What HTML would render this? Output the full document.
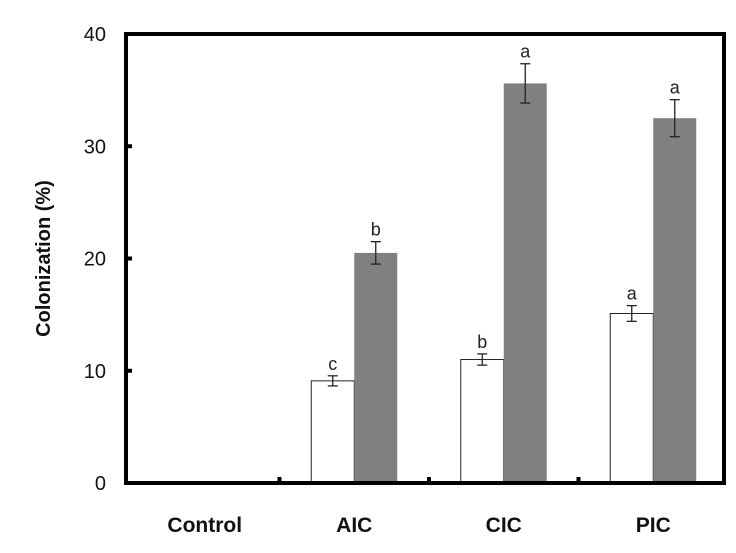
<!DOCTYPE html>
<html><head><meta charset="utf-8"><style>
body{margin:0;background:#fff;}
svg{display:block;font-family:"Liberation Sans",sans-serif;}
</style></head><body>
<svg id="chart" width="736" height="553"></svg>
<script>
const categories=["Control","AIC","CIC","PIC"];
const whiteValues=[0,9.1,11.0,15.1];
const whiteErrors=[0,0.45,0.5,0.7];
const grayValues=[0,20.5,35.6,32.5];
const grayErrors=[0,1.0,1.75,1.65];
const whiteLetters=["","c","b","a"];
const grayLetters=["","b","a","a"];
const yTicks=[0,10,20,30,40];

const NS="http://www.w3.org/2000/svg";
const svg=document.getElementById('chart');
const L=126,R=724,T=34,B=483,OFF=4;
const catW=(R-L)/categories.length, barW=43;
const y=v=>B-(v/40)*(B-T);
const xc=i=>L+OFF+catW*(i+0.5);
function mk(tag,attrs,parent){const e=document.createElementNS(NS,tag);for(const k in attrs)e.setAttribute(k,attrs[k]);(parent||svg).appendChild(e);return e;}

yTicks.forEach(t=>{
  const tx=mk('text',{x:106,y:y(t)+7,'text-anchor':'end','font-size':20,fill:'#111'});
  tx.textContent=t;
  
  
  const tk=mk('line',{x1:L,x2:L+6,y1:y(t),y2:y(t),stroke:'#000','stroke-width':4});
  
  
});
const yt=mk('text',{x:0,y:0,transform:'translate(50,'+((T+B)/2)+') rotate(-90)','text-anchor':'middle','font-size':20,'font-weight':'bold',fill:'#111'});
yt.textContent='Colonization (%)';



function bar(v,e,letter,x,fill,name){
  if(v<=0)return;
  const r=mk('rect',{x:x,y:y(v),width:barW,height:B-y(v),fill:fill,stroke:fill==='#fff'?'#222':'none','stroke-width':1});
  
  
  const cx=x+barW/2;
  const g=mk('g',{stroke:'#222','stroke-width':1.3});
  
  
  mk('line',{x1:cx,x2:cx,y1:y(v+e),y2:y(v-e)},g);
  mk('line',{x1:cx-5,x2:cx+5,y1:y(v+e),y2:y(v+e)},g);
  mk('line',{x1:cx-5,x2:cx+5,y1:y(v-e),y2:y(v-e)},g);
  const t=mk('text',{x:cx,y:y(v+e)-6,'text-anchor':'middle','font-size':18,fill:'#222'});
  t.textContent=letter;
  
  
}
categories.forEach((c,i)=>{
  bar(whiteValues[i],whiteErrors[i],whiteLetters[i],xc(i)-barW,'#fff','bar-white-'+c.toLowerCase());
  bar(grayValues[i],grayErrors[i],grayLetters[i],xc(i),'#808080','bar-gray-'+c.toLowerCase());
  const t=mk('text',{x:xc(i),y:532,'text-anchor':'middle','font-size':21,'font-weight':'bold',fill:'#111'});
  t.textContent=c;
  
  
  if(i>0){
    const tk=mk('line',{x1:L+OFF+catW*i,x2:L+OFF+catW*i,y1:B,y2:B-6,stroke:'#000','stroke-width':4});
    
    
  }
});
const fr=mk('rect',{x:L,y:T,width:R-L,height:B-T,fill:'none',stroke:'#000','stroke-width':4});


</script>
</body></html>
